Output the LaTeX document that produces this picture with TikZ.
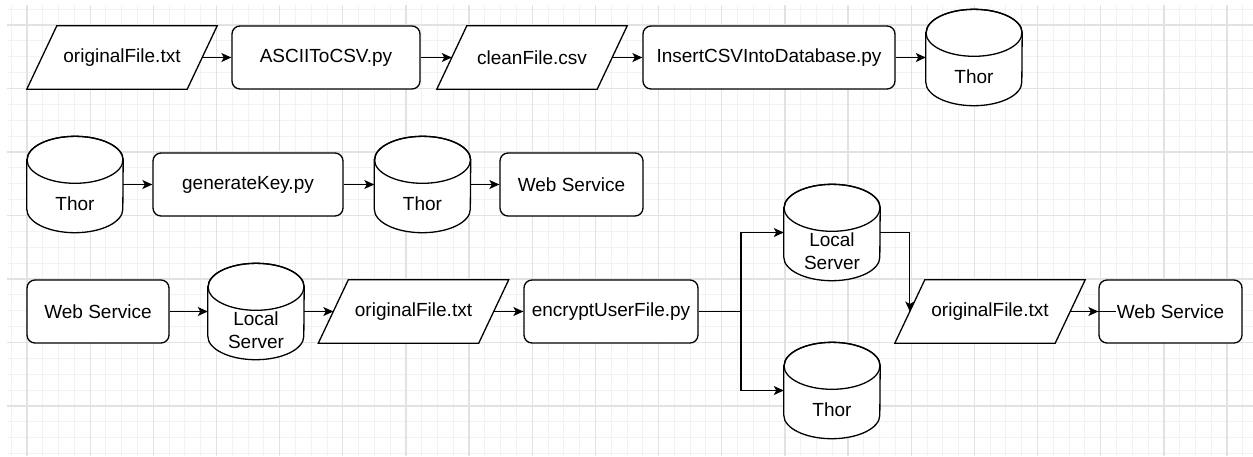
\documentclass[tikz,border=0pt]{standalone}
\usepackage{fontspec}
\setmainfont{Liberation Sans}
\usetikzlibrary{arrows.meta}

\pgfdeclarelayer{grid}
\pgfdeclarelayer{shapes}
\pgfsetlayers{grid,shapes,main}

\definecolor{gridminor}{HTML}{F2F2F2}
\definecolor{gridmajor}{HTML}{E2E2E2}

\newcommand{\dbtext}[1]{\raisebox{-21pt}[\height][\depth]{\begin{tabular}{@{}c@{}}#1\end{tabular}}}

\begin{document}
\begin{tikzpicture}[x=1pt,y=-1pt,font=\fontsize{19}{23}\selectfont,
  >={Stealth[length=10pt,width=9pt,inset=2.5pt]},
  procbox/.style={rectangle,rounded corners=8pt,draw,fill=white,line width=1.3pt,
    minimum width=#1,minimum height=63pt,inner sep=0pt},
  iobox/.style={rectangle,minimum width=160pt,minimum height=63pt,inner sep=0pt},
  dbase/.style={rectangle,minimum width=96pt,minimum height=96pt,inner sep=0pt},
  outline/.style={line width=1.3pt,fill=white},
  flow/.style={line width=1.3pt,->},
  minorline/.style={gridminor,line width=1pt},
  majorline/.style={gridmajor,line width=1.3pt}]
\useasboundingbox (0,0) rectangle (1253,456);
\begin{pgfonlayer}{grid}
\fill [white] (0,0) rectangle (1253,456);
\foreach \j in {-1,...,77} \draw [minorline] ({27+15.79*\j},5) -- ({27+15.79*\j},456);
\foreach \j in {-1,...,27} \draw [minorline] (7,{25+15.875*\j}) -- (1253,{25+15.875*\j});
\foreach \j in {0,...,19} \draw [majorline] ({27+63.16*\j},5) -- ({27+63.16*\j},456);
\foreach \j in {0,...,6}  \draw [majorline] (7,{25+63.5*\j}) -- (1253,{25+63.5*\j});
\end{pgfonlayer}

\node (fileA)   at  (122,57.5)  [iobox]         {originalFile.txt};
\node (ascii)   at  (326,57.5)  [procbox=188pt] {ASCIIToCSV.py};
\node (fileB)   at  (532,57.5)  [iobox]         {cleanFile.csv};
\node (insert)  at  (769,57.5)  [procbox=252pt] {InsertCSVIntoDatabase.py};
\node (thorA)   at  (974,57.5)  [dbase]         {\dbtext{Thor}};

\node (thorB)   at   (75,184.5) [dbase]         {\dbtext{Thor}};
\node (genkey)  at  (248,184.5) [procbox=190pt] {generateKey.py};
\node (thorC)   at (422.5,184.5) [dbase]        {\dbtext{Thor}};
\node (webA)    at (571.5,184.5) [procbox=143pt] {Web Service};

\node (webB)    at   (98,311.5) [procbox=142pt] {Web Service};
\node (localA)  at  (256,311.5) [dbase]         {\dbtext{Local\\Server}};
\node (fileC)   at (413.5,311.5) [iobox]        {originalFile.txt};
\node (encrypt) at  (611,311.5) [procbox=174pt] {encryptUserFile.py};
\node (localB)  at  (832,232.5) [dbase]         {\dbtext{Local\\Server}};
\node (thorD)   at  (832,390.5) [dbase]         {\dbtext{Thor}};
\node (fileD)   at  (990,311.5) [iobox]         {originalFile.txt};
\node (webC)  at (1170.5,311.5) [procbox=143pt] {Web Service};
\coordinate (split) at (741,311.5);

\begin{pgfonlayer}{shapes}
\foreach \n in {thorA,thorB,thorC,localA,localB,thorD} {
  \filldraw [outline] ([yshift=-23.5pt]\n.north west) -- ([yshift=23.5pt]\n.south west)
    arc [start angle=180,end angle=360,x radius=48pt,y radius=23.5pt]
    -- ([yshift=-23.5pt]\n.north east)
    arc [start angle=0,end angle=180,x radius=48pt,y radius=23.5pt] -- cycle;
  \draw [line width=1.3pt] ([yshift=-23.5pt]\n.north) ellipse [x radius=48pt,y radius=23.5pt];
}
\foreach \n in {fileA,fileB,fileC,fileD}
  \filldraw [outline] ([xshift=-15pt]\n.south west) -- ([xshift=15pt]\n.north west)
    -- ([xshift=15pt]\n.north east) -- ([xshift=-15pt]\n.south east) -- cycle;
\end{pgfonlayer}

\draw [flow] (fileA)  -- (ascii);
\draw [flow] (ascii)  -- (fileB);
\draw [flow] (fileB)  -- (insert);
\draw [flow] (insert) -- (thorA);
\draw [flow] (thorB)  -- (genkey);
\draw [flow] (genkey) -- (thorC);
\draw [flow] (thorC)  -- (webA);
\draw [flow] (webB)   -- (localA);
\draw [flow] (localA) -- (fileC);
\draw [flow] (fileC)  -- (encrypt);
\draw [flow] (encrypt.east) -- (split) |- (localB.west);
\draw [flow] (split) |- (thorD.west);
\draw [flow] (localB.east) -| (fileD.west);
\draw [flow] (fileD)  -- (webC);
\draw [line width=1.3pt] (webC.west) -- ++(18,0);
\end{tikzpicture}
\end{document}
